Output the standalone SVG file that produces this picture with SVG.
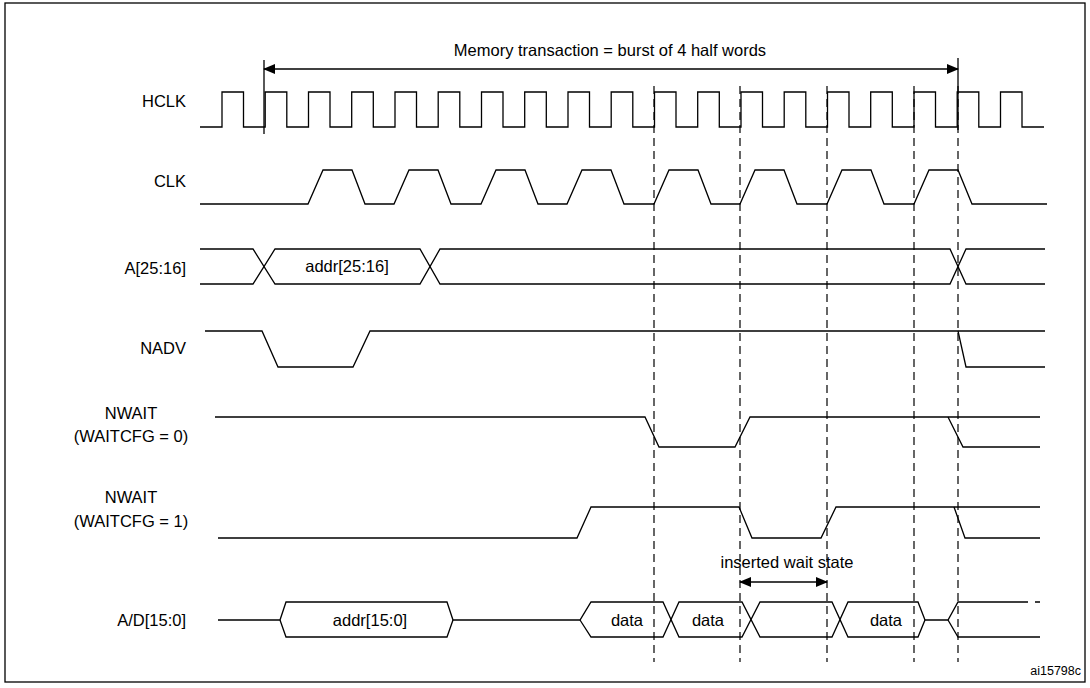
<svg xmlns="http://www.w3.org/2000/svg" width="1090" height="688" viewBox="0 0 1090 688">
<style>
.s{fill:none;stroke:#000;stroke-width:1.3}
.d{fill:none;stroke:#000;stroke-width:1.2;stroke-dasharray:8,5}
text{font-family:"Liberation Sans",Arial,sans-serif;font-size:16.5px;fill:#000}
.r{text-anchor:end}.m{text-anchor:middle}
</style>
<defs>
<marker id="ah" markerWidth="12" markerHeight="10" refX="11" refY="5" orient="auto-start-reverse" markerUnits="userSpaceOnUse"><path d="M0,0 L12,5 L0,10 Z" fill="#000"/></marker>
</defs>
<rect x="5" y="3" width="1080" height="679" fill="#fff" stroke="#000" stroke-width="1.3"/>
<g id="labels">
<text class="r" x="186" y="107">HCLK</text>
<text class="r" x="186" y="187">CLK</text>
<text class="r" x="186" y="274">A[25:16]</text>
<text class="r" x="186" y="354">NADV</text>
<text class="m" x="131" y="419">NWAIT</text>
<text class="m" x="131" y="442">(WAITCFG = 0)</text>
<text class="m" x="131" y="503">NWAIT</text>
<text class="m" x="131" y="527">(WAITCFG = 1)</text>
<text class="r" x="186" y="626">A/D[15:0]</text>
<text x="1081" y="675" class="r" style="font-size:12.5px">ai15798c</text>
</g>
<g id="hclk">
<path class="s" d="M200,127 H222 V92 H243.5 V127 H265.2 V92 H286.8 V127 H308.5 V92 H330 V127 H351.7 V92 H373.3 V127 H395 V92 H416.5 V127 H438.2 V92 H459.8 V127 H481.5 V92 H503 V127 H524.7 V92 H546.3 V127 H568 V92 H589.5 V127 H611.2 V92 H632.8 V127 H654.5 V92 H676 V127 H697.7 V92 H719.3 V127 H741 V92 H762.5 V127 H784.2 V92 H805.8 V127 H827.5 V92 H849 V127 H870.7 V92 H892.3 V127 H914 V92 H935.5 V127 H957.2 V92 H978.8 V127 H1000.5 V92 H1022 V127 H1044"/>
</g>
<g id="clk">
<path class="s" d="M200,204 H308 L323,170 H352 L365,204 H394 L409,170 H438 L451,204 H481 L496,170 H525 L538,204 H567 L582,170 H611 L624,204 H654 L669,170 H698 L711,204 H740 L755,170 H784 L797,204 H827 L842,170 H871 L884,204 H914 L929,170 H958 L972,204 H1047"/>
</g>
<g id="a2516">
<path class="s" d="M200,249 H253 L275,284 H420 L440,249 H950 L966,284 H1045"/>
<path class="s" d="M200,284 H253 L275,249 H420 L440,284 H950 L966,249 H1045"/>
<text class="m" x="347" y="272">addr[25:16]</text>
</g>
<g id="nadv">
<path class="s" d="M205,331 H262 L278,367 H353 L370,331 H1045"/>
<path class="s" d="M958,331 L966,367 H1045"/>
</g>
<g id="nwait0">
<path class="s" d="M215,417 H645 L659,447 H735 L750,417 H1040"/>
<path class="s" d="M948,417 L963,447 H1040"/>
</g>
<g id="nwait1">
<path class="s" d="M218,538 H577 L591,507 H739 L752,538 H821 L836,507 H1040"/>
<path class="s" d="M954,507 L965,538 H1040"/>
</g>
<g id="ad">
<path class="s" d="M218,620 H280 L286,602 H447 L453,620 H580 L591,602 H663 L679,637 H742 L760,602 H832 L848,637 H918 L925,620 H948 L958,602 H1028 M1035,602 H1040"/>
<path class="s" d="M453,620 L447,637 H286 L280,620 M580,620 L591,637 H663 L679,602 H742 L760,637 H832 L848,602 H918 L925,620 M948,620 L958,637 H1040"/>
<text class="m" x="370" y="626">addr[15:0]</text>
<text class="m" x="627" y="626">data</text>
<text class="m" x="708" y="626">data</text>
<text class="m" x="886" y="626">data</text>
</g>
<g id="connectors">
<path class="d" d="M654,86 V662 M740,86 V662 M827,86 V662 M914,86 V662 M958,86 V662"/>
<path class="s" d="M264,60 V134 M958,58 V130"/>
<line class="s" x1="264" y1="69" x2="958" y2="69" marker-start="url(#ah)" marker-end="url(#ah)"/>
<line class="s" x1="740" y1="582" x2="827" y2="582" marker-start="url(#ah)" marker-end="url(#ah)"/>
<text class="m" x="610" y="56">Memory transaction = burst of 4 half words</text>
<text class="m" x="787" y="568">inserted wait state</text>
</g>
</svg>
